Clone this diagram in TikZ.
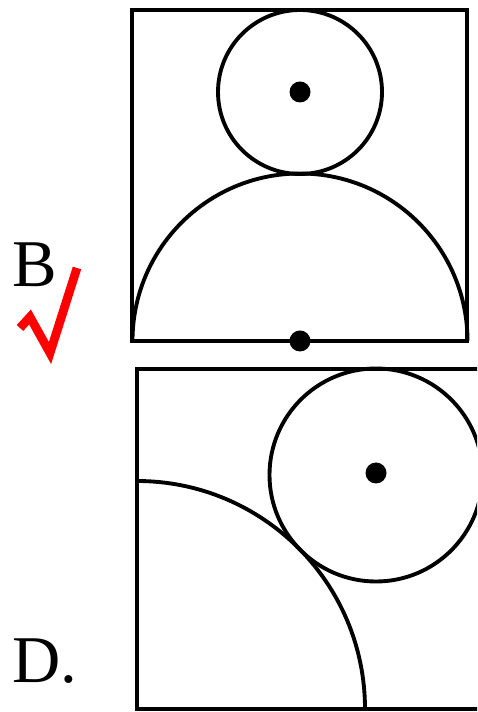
\documentclass[tikz,border=0pt]{standalone}
\usepackage{fontspec}
\setmainfont{Liberation Serif}
\usepackage{xcolor}
\usetikzlibrary{positioning}
\definecolor{tickRed}{HTML}{FF0000}
\begin{document}
\begin{tikzpicture}[x=0.02cm,y=0.02cm,
  fig/.style={line width=2.2pt},
  dot/.style={circle, fill=black, inner sep=0pt, minimum size=0.42cm},
  lbl/.style={font=\fontsize{38}{40}\selectfont, inner sep=0pt, anchor=base west}]
\clip (0,0) rectangle (477,712);
% figure B
\draw[fig] (132,371) rectangle (467,702);
\draw[fig] (300,620) circle[radius=82];
\draw[fig] (132.5,371) arc[start angle=180, end angle=0, radius=167.5];
\node[dot] (cB) at (300,620) {};
\node[dot] (oB) at (300,371) {};
% figure D
\draw[fig] (137,3) rectangle (481,343);
\draw[fig] (376,237) circle[radius=106.5];
\draw[fig] (365,3) arc[start angle=0, end angle=90, radius=228];
\node[dot] (cD) at (376,239) {};
% labels
\node[lbl] (labB) at (12,425) {B};
\node[lbl] (labD) at (12,30) {D.};
\draw[tickRed, line width=5pt, line join=miter] (20,384) -- (30,395) -- (50,359) -- (77,444);
\end{tikzpicture}
\end{document}
